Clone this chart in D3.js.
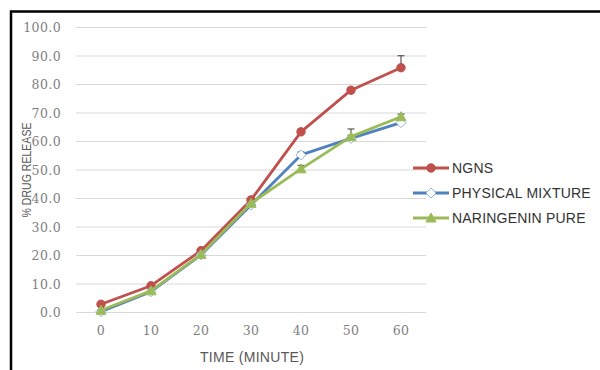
<!DOCTYPE html>
<html>
<head>
<meta charset="utf-8">
<script src="https://cdn.jsdelivr.net/npm/d3@7"></script>
<style>
  body { margin: 0; background: #fff; }
  svg { display: block; }
</style>
</head>
<body>
<div id="chart"></div>
<script>
// data
var times = ["0", "10", "20", "30", "40", "50", "60"];
var yTicks = [0, 10, 20, 30, 40, 50, 60, 70, 80, 90, 100];
var seriesNames = ["NGNS", "PHYSICAL MIXTURE", "NARINGENIN PURE"];
var ngns = [2.9, 9.4, 21.7, 39.5, 63.4, 78.0, 85.9];
var ngnsErr = [0.3, 0.4, 0.5, 0.5, 0.9, 0.7, 4.2];
var physMix = [0.3, 7.3, 20.2, 37.7, 55.3, 61.1, 66.6];
var physMixErr = [0.2, 0.3, 0.4, 0.4, 1.0, 3.3, 0.5];
var narPure = [0.8, 7.6, 20.4, 38.3, 50.4, 61.7, 68.7];
var narPureErr = [0.2, 0.3, 0.4, 0.4, 1.2, 0.5, 0.9];

var W = 600, H = 370;
var margin = {top: 27.5, left: 76, right: 174, bottom: 57.5};
var width = W - margin.left - margin.right,
    height = H - margin.top - margin.bottom;

var colors = ["#C0504D", "#4F81BD", "#9BBB59"];
var series = [
  {name: seriesNames[0], values: ngns, err: ngnsErr, color: colors[0], marker: "circle"},
  {name: seriesNames[1], values: physMix, err: physMixErr, color: colors[1], marker: "diamond"},
  {name: seriesNames[2], values: narPure, err: narPureErr, color: colors[2], marker: "triangle"}
];

var svg = d3.select("#chart").append("svg")
    .attr("width", W)
    .attr("height", H);

// black frame (top + left visible)
svg.append("path")
    .attr("d", "M11,370 V11.5 H600")
    .attr("fill", "none")
    .attr("stroke", "#000")
    .attr("stroke-width", 2.5);

var g = svg.append("g")
    .attr("transform", "translate(" + margin.left + "," + margin.top + ")");

var xScale = d3.scaleBand().domain(times).range([0, width]);
var yScale = d3.scaleLinear().domain([0, 100]).range([height, 0]);
var xPos = function(i) { return xScale(times[i]) + xScale.bandwidth() / 2; };

// gridlines
g.selectAll("line.grid")
    .data(yTicks)
    .enter()
    .append("line")
    .attr("class", "grid")
    .attr("x1", 0)
    .attr("x2", width)
    .attr("y1", function(d) { return yScale(d); })
    .attr("y2", function(d) { return yScale(d); })
    .attr("stroke", "#d9d9d9")
    .attr("stroke-width", 1);

// y axis
var yAxis = d3.axisLeft(yScale)
    .tickValues(yTicks)
    .tickFormat(d3.format(".1f"))
    .tickSize(0)
    .tickPadding(15);
var yg = g.append("g").call(yAxis);
yg.select(".domain").remove();
yg.selectAll("text")
    .attr("font-family", "DejaVu Serif, serif")
    .attr("font-size", 12.5)
    .attr("letter-spacing", 0.4)
    .attr("fill", "#7f7f7f");

// x axis
var xAxis = d3.axisBottom(xScale).tickSize(0).tickPadding(14);
var xg = g.append("g")
    .attr("transform", "translate(0," + height + ")")
    .call(xAxis);
xg.select(".domain").remove();
xg.selectAll("text")
    .attr("font-family", "DejaVu Serif, serif")
    .attr("font-size", 12.5)
    .attr("letter-spacing", 0.4)
    .attr("fill", "#7f7f7f");

// axis titles
svg.append("text")
    .attr("text-anchor", "middle")
    .attr("transform", "translate(31,170)rotate(-90)")
    .attr("font-family", "Liberation Sans, Arial, sans-serif")
    .attr("font-size", 13)
    .attr("textLength", 95)
    .attr("lengthAdjust", "spacingAndGlyphs")
    .attr("fill", "#595959")
    .text("% DRUG RELEASE");

svg.append("text")
    .attr("text-anchor", "middle")
    .attr("x", 252)
    .attr("y", 362)
    .attr("font-family", "Liberation Sans, Arial, sans-serif")
    .attr("font-size", 14)
    .attr("letter-spacing", 0.3)
    .attr("fill", "#595959")
    .text("TIME (MINUTE)");

var line = d3.line()
    .x(function(d, i) { return xPos(i); })
    .y(function(d) { return yScale(d); });

function drawMarker(sel, type, color, x, y) {
  if (type === "circle") {
    sel.append("circle").attr("cx", x).attr("cy", y).attr("r", 4.2)
       .attr("fill", color).attr("stroke", color);
  } else if (type === "diamond") {
    sel.append("path")
       .attr("d", "M" + x + "," + (y - 5) + " L" + (x + 5) + "," + y + " L" + x + "," + (y + 5) + " L" + (x - 5) + "," + y + "Z")
       .attr("fill", "#fff").attr("stroke", "#8db3e2").attr("stroke-width", 1);
  } else {
    sel.append("path")
       .attr("d", "M" + x + "," + (y - 5) + " L" + (x + 5) + "," + (y + 4) + " L" + (x - 5) + "," + (y + 4) + "Z")
       .attr("fill", color).attr("stroke", color);
  }
}

// error bars (behind lines)
series.forEach(function(s) {
  var eg = g.append("g");
  s.values.forEach(function(v, i) {
    var x = xPos(i);
    eg.append("line")
      .attr("x1", x).attr("x2", x)
      .attr("y1", yScale(v)).attr("y2", yScale(v + s.err[i]))
      .attr("stroke", "#595959").attr("stroke-width", 1.2);
    eg.append("line")
      .attr("x1", x - 3.5).attr("x2", x + 3.5)
      .attr("y1", yScale(v + s.err[i])).attr("y2", yScale(v + s.err[i]))
      .attr("stroke", "#595959").attr("stroke-width", 1.2);
  });
});

// lines + markers
series.forEach(function(s) {
  g.append("path")
    .datum(s.values)
    .attr("d", line)
    .attr("fill", "none")
    .attr("stroke", s.color)
    .attr("stroke-width", 2.8)
    .attr("stroke-linejoin", "round");
  var mg = g.append("g");
  s.values.forEach(function(v, i) {
    drawMarker(mg, s.marker, s.color, xPos(i), yScale(v));
  });
});

// legend
var legend = svg.append("g");
series.forEach(function(s, i) {
  var ly = 168 + i * 25;
  legend.append("line")
    .attr("x1", 413).attr("x2", 449)
    .attr("y1", ly).attr("y2", ly)
    .attr("stroke", s.color)
    .attr("stroke-width", 2.8);
  drawMarker(legend, s.marker, s.color, 431, ly);
  legend.append("text")
    .attr("x", 452)
    .attr("y", ly + 5)
    .attr("font-family", "Liberation Sans, Arial, sans-serif")
    .attr("font-size", 14)
    .attr("letter-spacing", 0.2)
    .attr("fill", "#333")
    .text(s.name);
});
</script>
</body>
</html>
